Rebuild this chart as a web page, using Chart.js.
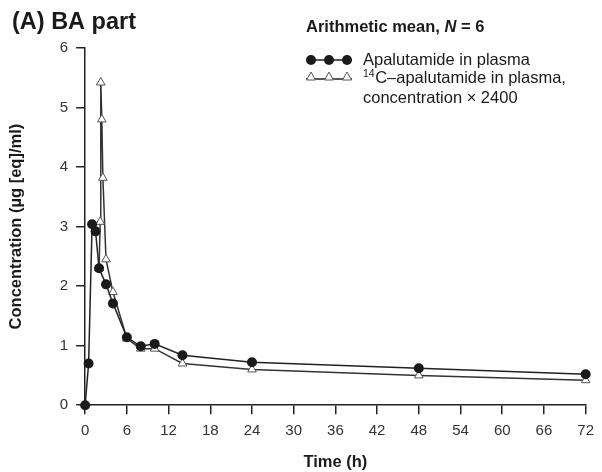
<!DOCTYPE html>
<html>
<head>
<meta charset="utf-8">
<script src="https://cdn.jsdelivr.net/npm/chart.js@4.4.1/dist/chart.umd.min.js"></script>
<style>
  html, body { margin: 0; padding: 0; background: #fff; }
</style>
</head>
<body>
<canvas id="pkChart" width="602" height="472"></canvas>
<script>
// Apalutamide in plasma (filled circles)
const apaTime = [0, 0.5, 1, 1.5, 2, 3, 4, 6, 8, 10, 14, 24, 48, 72];
const apaConc = [0, 0.70, 3.04, 2.92, 2.30, 2.03, 1.71, 1.14, 0.99, 1.03, 0.84, 0.72, 0.62, 0.52];

// 14C-apalutamide in plasma, concentration x 2400 (open triangles)
const c14Time = [2, 2.17, 2.25, 2.4, 2.55, 3, 4, 6, 8, 10, 14, 24, 48, 72];
const c14Conc = [2.30, 3.08, 5.42, 4.80, 3.82, 2.45, 1.90, 1.12, 0.95, 0.95, 0.70, 0.60, 0.50, 0.42];

const xTicks = [0, 6, 12, 18, 24, 30, 36, 42, 48, 54, 60, 66, 72];
const yTicks = [0, 1, 2, 3, 4, 5, 6];

const FONT = "'Liberation Sans', Arial, Helvetica, sans-serif";

function toPoints(xs, ys) {
  return xs.map((x, i) => ({ x: x, y: ys[i] }));
}

// Title and legend drawn on the canvas
const textPlugin = {
  id: "textPlugin",
  afterDraw(chart) {
    const ctx = chart.ctx;
    ctx.save();
    ctx.fillStyle = "#1a1a1a";
    ctx.textBaseline = "middle";
    ctx.textAlign = "left";

    // Panel title
    ctx.font = "bold 23.5px " + FONT;
    ctx.fillText("(A) BA part", 12, 23);

    // Legend header: "Arithmetic mean, N = 6" with italic N
    let x = 306;
    const hy = 27;
    ctx.font = "bold 16.5px " + FONT;
    ctx.fillText("Arithmetic mean, ", x, hy);
    x += ctx.measureText("Arithmetic mean, ").width;
    ctx.font = "italic bold 16.5px " + FONT;
    ctx.fillText("N", x, hy);
    x += ctx.measureText("N").width;
    ctx.font = "bold 16.5px " + FONT;
    ctx.fillText(" = 6", x, hy);

    // Legend row 1: line with three filled circles
    ctx.strokeStyle = "#222";
    ctx.lineWidth = 1.5;
    ctx.beginPath();
    ctx.moveTo(306, 60);
    ctx.lineTo(352, 60);
    ctx.stroke();
    ctx.fillStyle = "#1a1a1a";
    [311, 329, 347].forEach((cx) => {
      ctx.beginPath();
      ctx.arc(cx, 60, 5, 0, Math.PI * 2);
      ctx.fill();
    });

    // Legend row 2: line with three open triangles
    ctx.beginPath();
    ctx.moveTo(306, 79);
    ctx.lineTo(352, 79);
    ctx.stroke();
    ctx.lineWidth = 1;
    ctx.strokeStyle = "#555";
    [311, 329, 347].forEach((cx) => {
      ctx.beginPath();
      ctx.moveTo(cx, 72);
      ctx.lineTo(cx + 4.5, 80);
      ctx.lineTo(cx - 4.5, 80);
      ctx.closePath();
      ctx.fillStyle = "#fff";
      ctx.fill();
      ctx.stroke();
    });

    // Legend texts
    ctx.fillStyle = "#1a1a1a";
    ctx.font = "16.5px " + FONT;
    ctx.fillText("Apalutamide in plasma", 363, 60);
    ctx.font = "10.5px " + FONT;
    ctx.fillText("14", 363, 74);
    const supW = ctx.measureText("14").width;
    ctx.font = "16.5px " + FONT;
    ctx.fillText("C\u2013apalutamide in plasma,", 363 + supW + 0.5, 78.5);
    ctx.fillText("concentration \u00d7 2400", 363, 98);
    ctx.restore();
  }
};

new Chart(document.getElementById("pkChart").getContext("2d"), {
  type: "line",
  data: {
    datasets: [
      {
        label: "Apalutamide in plasma",
        data: toPoints(apaTime, apaConc),
        borderColor: "#222",
        borderWidth: 1.5,
        backgroundColor: "#1a1a1a",
        pointStyle: "circle",
        pointRadius: 5,
        pointBorderWidth: 0,
        pointBackgroundColor: "#1a1a1a",
        tension: 0,
        clip: false
      },
      {
        label: "14C-apalutamide in plasma, concentration x 2400",
        data: toPoints(c14Time, c14Conc),
        borderColor: "#333",
        borderWidth: 1.5,
        pointStyle: "triangle",
        pointRadius: 5,
        pointBorderWidth: 1,
        pointBorderColor: "#555",
        pointBackgroundColor: "#fff",
        tension: 0,
        clip: false
      }
    ]
  },
  options: {
    responsive: false,
    animation: false,
    layout: { padding: { left: 7, right: 16, top: 48, bottom: 0 } },
    plugins: {
      legend: { display: false },
      tooltip: { enabled: false }
    },
    scales: {
      x: {
        type: "linear",
        min: 0,
        max: 72,
        afterBuildTicks: (axis) => { axis.ticks = xTicks.map((v) => ({ value: v })); },
        ticks: { font: { family: FONT, size: 15 }, color: "#333", padding: 8, maxRotation: 0 },
        grid: { drawOnChartArea: false, drawTicks: true, tickLength: 9, color: "#222", lineWidth: 1.5 },
        border: { color: "#222", width: 1.5 },
        title: {
          display: true,
          text: "Time (h)",
          color: "#1a1a1a",
          font: { family: FONT, size: 16.5, weight: "bold" },
          padding: { top: 4, bottom: 0 }
        }
      },
      y: {
        type: "linear",
        min: 0,
        max: 6,
        afterBuildTicks: (axis) => { axis.ticks = yTicks.map((v) => ({ value: v })); },
        ticks: { font: { family: FONT, size: 15 }, color: "#333", padding: 8 },
        grid: { drawOnChartArea: false, drawTicks: true, tickLength: 9, color: "#222", lineWidth: 1.5 },
        border: { color: "#222", width: 1.5 },
        title: {
          display: true,
          text: "Concentration (\u00b5g [eq]/ml)",
          color: "#1a1a1a",
          font: { family: FONT, size: 16.5, weight: "bold" },
          padding: { top: 0, bottom: 25 }
        }
      }
    }
  },
  plugins: [textPlugin]
});
</script>
</body>
</html>
